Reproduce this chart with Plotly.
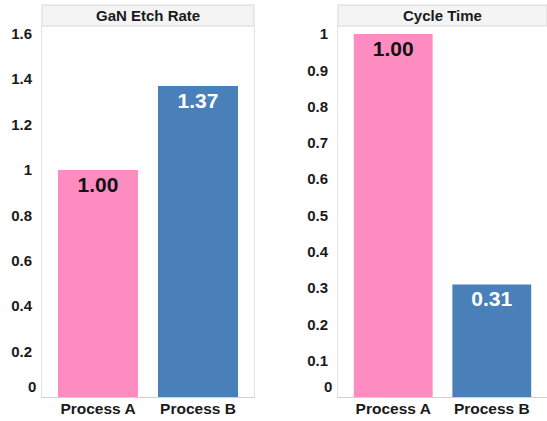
import plotly.graph_objects as go

categories = ["Process A", "Process B"]
etch_rate = [1.00, 1.37]
cycle_time = [1.00, 0.31]
etch_labels = ["1.00", "1.37"]
cycle_labels = ["1.00", "0.31"]
etch_ticks = [0.2, 0.4, 0.6, 0.8, 1.0, 1.2, 1.4, 1.6]
etch_ticktext = ["0.2", "0.4", "0.6", "0.8", "1", "1.2", "1.4", "1.6"]
cycle_ticks = [0.1, 0.2, 0.3, 0.4, 0.5, 0.6, 0.7, 0.8, 0.9, 1.0]
cycle_ticktext = ["0.1", "0.2", "0.3", "0.4", "0.5", "0.6", "0.7", "0.8", "0.9", "1"]
titles = ["GaN Etch Rate", "Cycle Time"]

PINK = "#FD8DC1"
BLUE = "#4A80B9"
colors = [PINK, BLUE]
text_colors = ["#111111", "#FFFFFF"]

W, H = 547, 421
FONT = "Liberation Sans, Arial, sans-serif"

fig = go.Figure()
fig.add_trace(go.Bar(
    x=categories, y=etch_rate, xaxis="x", yaxis="y",
    marker=dict(color=colors, line=dict(width=0)), width=0.8,
    text=etch_labels, textposition="inside", insidetextanchor="end",
    textfont=dict(family=FONT, size=21, color=text_colors, weight="bold"),
    constraintext="none", hoverinfo="skip", showlegend=False))
fig.add_trace(go.Bar(
    x=categories, y=cycle_time, xaxis="x2", yaxis="y2",
    marker=dict(color=colors, line=dict(width=0)), width=0.8,
    text=cycle_labels, textposition="inside", insidetextanchor="end",
    textfont=dict(family=FONT, size=21, color=text_colors, weight="bold"),
    constraintext="none", hoverinfo="skip", showlegend=False))

ydom = [(H - 397) / H, (H - 26) / H]
xdom1 = [42 / W, 254 / W]
xdom2 = [338 / W, 1.0]

tickfont = dict(family=FONT, size=15, color="#1A1A1A", weight="bold")
xtickfont = dict(family=FONT, size=15.5, color="#1A1A1A", weight="bold")

common_x = dict(type="category", range=[-0.56, 1.56], showgrid=False,
                showline=True, linecolor="#D0D0D0", linewidth=1,
                ticks="", tickfont=xtickfont, ticklabelstandoff=-3,
                fixedrange=True)
common_y = dict(showgrid=False, zeroline=False, showline=True, mirror=True,
                linecolor="#E4E4E4", linewidth=1, ticks="",
                tickfont=tickfont, ticklabelstandoff=6, fixedrange=True)

fig.update_layout(
    width=W, height=H, margin=dict(l=0, r=0, t=0, b=0),
    paper_bgcolor="white", plot_bgcolor="white",
    bargap=0.2,
    xaxis=dict(domain=xdom1, anchor="y", **common_x),
    yaxis=dict(domain=ydom, anchor="x", range=[0, 1.634],
               tickvals=etch_ticks, ticktext=etch_ticktext, **common_y),
    xaxis2=dict(domain=xdom2, anchor="y2", **common_x),
    yaxis2=dict(domain=ydom, anchor="x2", range=[0, 1.022],
                tickvals=cycle_ticks, ticktext=cycle_ticktext, **common_y),
)

# header boxes
ytop = (H - 5) / H
for xd, t in zip([xdom1, xdom2], titles):
    fig.add_shape(type="rect", xref="paper", yref="paper",
                  x0=xd[0], x1=xd[1], y0=ydom[1], y1=ytop,
                  fillcolor="#F4F4F4", line=dict(color="#D9D9D9", width=1),
                  layer="below")
    fig.add_annotation(xref="paper", yref="paper", x=(xd[0] + xd[1]) / 2,
                       y=(ydom[1] + ytop) / 2, text=t, showarrow=False,
                       font=dict(family=FONT, size=15, color="#1A1A1A", weight="bold"),
                       xanchor="center", yanchor="middle")

# zero labels (shifted up as in original)
for xr, yr in [("x domain", "y"), ("x2 domain", "y2")]:
    fig.add_annotation(xref=xr, yref=yr, x=0, y=0, text="0", showarrow=False,
                       xanchor="right", yanchor="middle", xshift=-4, yshift=11,
                       font=tickfont)

fig.write_html("out.html")
